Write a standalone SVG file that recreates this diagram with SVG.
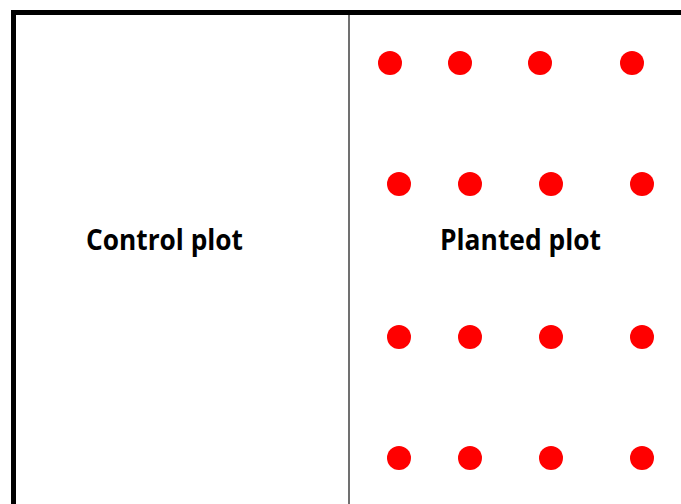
<svg xmlns="http://www.w3.org/2000/svg" width="681" height="504" viewBox="0 0 681 504">
<style>
.dot{fill:#ff0000}
.lbl{font-family:"Open Sans","Liberation Sans",sans-serif;font-weight:bold;font-size:29px;fill:#000;text-anchor:middle}
</style>
<rect width="681" height="504" fill="#fff"/>
<g id="frame">
<path d="M13.5,504 V12.5 H681" fill="none" stroke="#000" stroke-width="5"/>
<line x1="349" y1="15" x2="349" y2="504" stroke="#404040" stroke-width="1.5"/>
</g>
<g id="control-plot">
<text class="lbl" x="164.5" y="250" textLength="157" lengthAdjust="spacingAndGlyphs">Control plot</text>
</g>
<g id="planted-plot">
<text class="lbl" x="520.5" y="250" textLength="161" lengthAdjust="spacingAndGlyphs">Planted plot</text>
<circle class="dot" cx="390" cy="63" r="12"/>
<circle class="dot" cx="460" cy="63" r="12"/>
<circle class="dot" cx="540" cy="63" r="12"/>
<circle class="dot" cx="632" cy="63" r="12"/>
<circle class="dot" cx="399" cy="184" r="12"/>
<circle class="dot" cx="470" cy="184" r="12"/>
<circle class="dot" cx="551" cy="184" r="12"/>
<circle class="dot" cx="642" cy="184" r="12"/>
<circle class="dot" cx="399" cy="337" r="12"/>
<circle class="dot" cx="470" cy="337" r="12"/>
<circle class="dot" cx="551" cy="337" r="12"/>
<circle class="dot" cx="642" cy="337" r="12"/>
<circle class="dot" cx="399" cy="458" r="12"/>
<circle class="dot" cx="470" cy="458" r="12"/>
<circle class="dot" cx="551" cy="458" r="12"/>
<circle class="dot" cx="642" cy="458" r="12"/>
</g>
<g id="connectors"/>
</svg>
